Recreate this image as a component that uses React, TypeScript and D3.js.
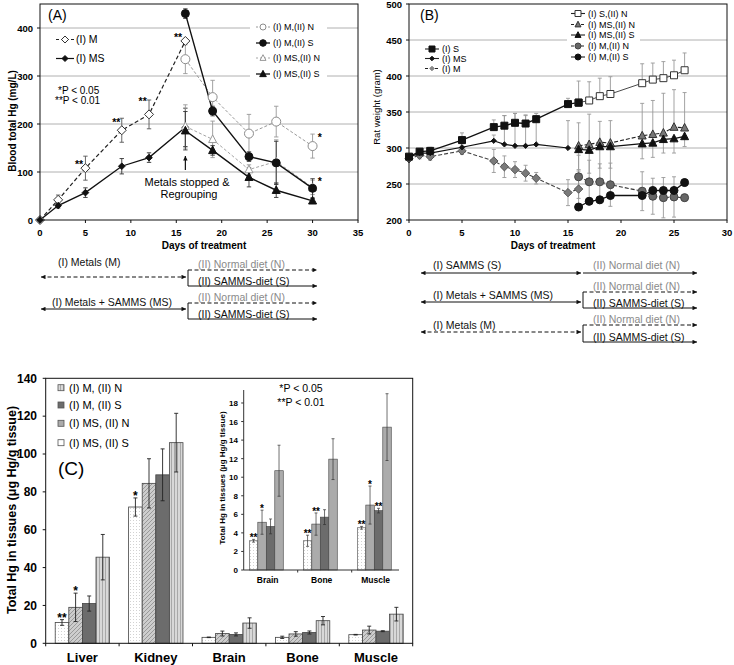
import React from "react";
import * as d3 from "d3";

const FONT = "'Liberation Sans', Arial, Helvetica, sans-serif";

// ---------------- Panel A data (blood Hg) ----------------
const daysA1 = [0, 2, 5, 9, 12, 16];
const aM = [0, 42, 108, 187, 220, 373];
const aMErr = [0, 10, 25, 25, 30, 0];
const aMS = [0, 30, 57, 112, 130, 193];
const aMSErr = [0, 5, 10, 16, 10, 40];
const daysA2 = [16, 19, 23, 26, 30];
const aMN = [335, 256, 180, 205, 154];
const aMNErr = [30, 35, 40, 32, 25];
const aMSd = [430, 227, 132, 119, 66];
const aMSdErr = [10, 10, 10, 45, 20];
const aMSN = [195, 168, 105, 122, 68];
const aMSNErr = [45, 38, 10, 45, 15];
const aMSS = [186, 145, 89, 62, 40];
const aMSSErr = [40, 10, 20, 15, 5];
const xTicksA = [0, 5, 10, 15, 20, 25, 30, 35];
const yTicksA = [0, 100, 200, 300, 400];
const gridA = [100, 200, 300, 400];
const starsA = [
  { d: 4.3, v: 121, t: "**" },
  { d: 8.4, v: 208, t: "**" },
  { d: 11.3, v: 252, t: "**" },
  { d: 15.2, v: 385, t: "**" },
  { d: 30.8, v: 177, t: "*" },
  { d: 30.8, v: 85, t: "*" },
];

// ---------------- Panel B data (rat weight) ----------------
const bDaysI = [0, 1, 2, 5, 8, 9, 10, 11, 12, 15, 16];
const bS = [288, 295, 296, 311, 329, 331, 335, 334, 340, 361, 363];
const bSErr = [3, 4, 5, 10, 10, 14, 13, 12, 8, 8, 30];
const bM = [285, 290, 288, 296, 282, 274, 270, 265, 258, 238, 243];
const bMErr = [3, 5, 5, 5, 16, 15, 11, 11, 8, 18, 25];
const bDaysMS = [0, 1, 2, 5, 8, 9, 10, 11, 12, 15];
const bMS = [287, 293, 293, 301, 310, 305, 303, 303, 305, 300];
const bMSErr = [3, 5, 5, 5, 8, 40, 45, 42, 40, 38];
const bDaysII = [16, 17, 18, 19, 22, 23, 24, 25, 26];
const bSN = [363, 366, 372, 375, 390, 395, 397, 401, 408];
const bSNErr = [0, 26, 25, 24, 27, 23, 23, 21, 24];
const bMSN = [303, 305, 308, 307, 317, 319, 321, 329, 328];
const bMSNErr = [32, 42, 29, 31, 45, 47, 55, 52, 49];
const bMSS = [298, 297, 302, 302, 306, 307, 312, 313, 316];
const bMSSErr = [28, 32, 30, 30, 21, 20, 19, 20, 14];
const bMN = [260, 253, 253, 249, 240, 233, 231, 232, 231];
const bMNErr = [30, 30, 25, 30, 27, 25, 28, 28, 5];
const bMSd = [218, 226, 228, 234, 234, 241, 241, 241, 252];
const bMSdErr = [3, 5, 5, 4, 4, 4, 4, 4, 5];
const xTicksB = [0, 5, 10, 15, 20, 25, 30];
const yTicksB = [200, 250, 300, 350, 400, 450, 500];
const gridB = [250, 300, 350, 400, 450];

// ---------------- Panel C data (tissue Hg) ----------------
const cats = ["Liver", "Kidney", "Brain", "Bone", "Muscle"];
const insetCats = ["Brain", "Bone", "Muscle"];
const barKeys = ["MSS", "MSN", "MS", "MN"];
const cMSS = [11, 72, 3.15, 3.15, 4.55];
const cMSSErr = [1.5, 4.8, 0.15, 0.6, 0.15];
const cMSN = [19, 84.5, 5.15, 4.95, 7.0];
const cMSNErr = [7.5, 13, 1.3, 1.2, 2.05];
const cMSd = [21, 89, 4.7, 5.7, 6.4];
const cMSdErr = [4, 13.7, 0.8, 0.8, 0.25];
const cMN = [45.5, 106, 10.7, 11.95, 15.4];
const cMNErr = [12, 15.5, 2.75, 2.2, 3.6];
const yTicksC = [0, 20, 40, 60, 80, 100, 120, 140];
const yTicksI = [0, 2, 4, 6, 8, 10, 12, 14, 16, 18];
const starsC = [
  { c: "Liver", k: 0, t: "**" },
  { c: "Liver", k: 1, t: "*" },
  { c: "Kidney", k: 0, t: "*" },
];
const starsI = [
  { c: "Brain", k: 0, t: "**" },
  { c: "Brain", k: 1, t: "*" },
  { c: "Bone", k: 0, t: "**" },
  { c: "Bone", k: 1, t: "**" },
  { c: "Muscle", k: 0, t: "**" },
  { c: "Muscle", k: 1, t: "*" },
  { c: "Muscle", k: 2, t: "**" },
];
const legendC = ["(I) M, (II) N", "(I) M, (II) S", "(I) MS, (II) N", "(I) MS, (II) S"];

function markerPath(type: string, s: number) {
  if (type === "diamond") return `M0,${-s}L${s},0L0,${s}L${-s},0Z`;
  if (type === "square") return `M${-s},${-s}H${s}V${s}H${-s}Z`;
  if (type === "triangle") return `M0,${-s * 1.1}L${s},${s * 0.8}L${-s},${s * 0.8}Z`;
  return "";
}

function Mk(p: { type: string; cx: number; cy: number; s: number; fill: string; stroke: string; sw?: number }) {
  if (p.type === "circle")
    return <circle cx={p.cx} cy={p.cy} r={p.s} fill={p.fill} stroke={p.stroke} strokeWidth={p.sw ?? 1} />;
  return (
    <path
      d={markerPath(p.type, p.s)}
      transform={`translate(${p.cx},${p.cy})`}
      fill={p.fill}
      stroke={p.stroke}
      strokeWidth={p.sw ?? 1}
    />
  );
}

interface Ser {
  xs: number[];
  ys: number[];
  err: number[];
  dir: "both" | "up" | "down";
  stroke: string;
  width: number;
  dash?: string;
  marker: string;
  ms: number;
  mfill: string;
  mstroke: string;
  ecolor: string;
}

function drawSeries(list: Ser[], x: any, y: any, cap: number) {
  const line = d3
    .line<[number, number]>()
    .x((d) => x(d[0]))
    .y((d) => y(d[1]));
  const errs = list.map((s, si) => (
    <g key={"e" + si} stroke={s.ecolor} strokeWidth={0.9}>
      {s.xs.map((d, i) => {
        const e = s.err[i];
        if (!e) return null;
        const top = s.dir === "down" ? s.ys[i] : s.ys[i] + e;
        const bot = s.dir === "up" ? s.ys[i] : s.ys[i] - e;
        const cx = x(d);
        return (
          <g key={i}>
            <line x1={cx} x2={cx} y1={y(top)} y2={y(bot)} />
            {s.dir !== "down" && <line x1={cx - cap} x2={cx + cap} y1={y(top)} y2={y(top)} />}
            {s.dir !== "up" && <line x1={cx - cap} x2={cx + cap} y1={y(bot)} y2={y(bot)} />}
          </g>
        );
      })}
    </g>
  ));
  const lines = list.map((s, si) => (
    <path
      key={"l" + si}
      d={line(s.xs.map((d, i) => [d, s.ys[i]] as [number, number])) || ""}
      fill="none"
      stroke={s.stroke}
      strokeWidth={s.width}
      strokeDasharray={s.dash}
    />
  ));
  const marks = list.map((s, si) => (
    <g key={"m" + si}>
      {s.xs.map((d, i) => (
        <Mk key={i} type={s.marker} cx={x(d)} cy={y(s.ys[i])} s={s.ms} fill={s.mfill} stroke={s.mstroke} />
      ))}
    </g>
  ));
  return [errs, lines, marks];
}

function Schematic(p: {
  x0: number;
  xm: number;
  x1: number;
  rows: {
    label: string;
    lx: number;
    ly: number;
    y: number;
    dash: boolean;
    br: { y: number; dash: boolean; text: string; gray: boolean; ty: number }[];
    bar: boolean;
  }[];
}) {
  return (
    <g fontSize={10.5}>
      {p.rows.map((r, i) => (
        <g key={i}>
          <text x={r.lx} y={r.ly} fill="#111">
            {r.label}
          </text>
          <line
            x1={p.x0 + 1}
            x2={p.xm - 1}
            y1={r.y}
            y2={r.y}
            stroke="#111"
            strokeWidth={1}
            strokeDasharray={r.dash ? "4,2.5" : undefined}
            markerStart="url(#arr)"
            markerEnd="url(#arr)"
          />
          {r.bar && (
            <line
              x1={p.xm + 1}
              x2={p.xm + 1}
              y1={r.br[0].y}
              y2={r.br[r.br.length - 1].y}
              stroke="#111"
              strokeWidth={1}
            />
          )}
          {r.br.map((b, j) => (
            <g key={j}>
              <line
                x1={p.xm + 1}
                x2={p.x1 - 1}
                y1={b.y}
                y2={b.y}
                stroke="#111"
                strokeWidth={1}
                strokeDasharray={b.dash ? "4,2.5" : undefined}
                markerEnd="url(#arr)"
              />
              <text x={p.xm + 11} y={b.ty} fill={b.gray ? "#8a8a8a" : "#111"}>
                {b.text}
              </text>
            </g>
          ))}
        </g>
      ))}
    </g>
  );
}

export default function App() {
  // ---------- scales ----------
  const xA = d3.scaleLinear().domain([0, 35]).range([40, 358]);
  const yA = d3.scaleLinear().domain([0, 450]).range([220, 4]);
  const xB = d3.scaleLinear().domain([0, 30]).range([409, 727]);
  const yB = d3.scaleLinear().domain([200, 500]).range([220, 4]);
  const xC = d3.scaleBand<string>().domain(cats).range([45.7, 412.7]);
  const xCs = d3.scaleBand<string>().domain(barKeys).range([0, xC.bandwidth()]).paddingInner(0).paddingOuter(0.7);
  const yC = d3.scaleLinear().domain([0, 140]).range([643.3, 378.3]);
  const xI = d3.scaleBand<string>().domain(insetCats).range([243.7, 405.7]);
  const xIs = d3
    .scaleBand<string>()
    .domain(barKeys)
    .range([0, xI.bandwidth()])
    .paddingInner(0)
    .paddingOuter(1.18)
    .align(0.28);
  const yI = d3.scaleLinear().domain([0, 19.4]).range([570, 390]);

  const barVals = [cMSS, cMSN, cMSd, cMN];
  const barErrs = [cMSSErr, cMSNErr, cMSdErr, cMNErr];
  const barFill = ["url(#dots)", "url(#diag)", "#6c6c6c", "url(#vstripe)"];
  const insetFill = ["url(#dots)", "#ababab", "#6c6c6c", "#ababab"];

  const serA: Ser[] = [
    { xs: daysA1, ys: aM, err: aMErr, dir: "both", stroke: "#222", width: 1.2, dash: "4,2.5", marker: "diamond", ms: 4.5, mfill: "#fff", mstroke: "#333", ecolor: "#555" },
    { xs: daysA1, ys: aMS, err: aMSErr, dir: "both", stroke: "#111", width: 1.3, marker: "diamond", ms: 3.3, mfill: "#111", mstroke: "#111", ecolor: "#333" },
    { xs: daysA2, ys: aMN, err: aMNErr, dir: "both", stroke: "#8c8c8c", width: 0.9, dash: "3,2", marker: "circle", ms: 4.5, mfill: "#fff", mstroke: "#8c8c8c", ecolor: "#999" },
    { xs: daysA2, ys: aMSN, err: aMSNErr, dir: "both", stroke: "#9a9a9a", width: 0.9, dash: "3,2", marker: "triangle", ms: 4, mfill: "#fff", mstroke: "#999", ecolor: "#999" },
    { xs: daysA2, ys: aMSS, err: aMSSErr, dir: "both", stroke: "#111", width: 1.4, marker: "triangle", ms: 4, mfill: "#111", mstroke: "#111", ecolor: "#333" },
    { xs: daysA2, ys: aMSd, err: aMSdErr, dir: "both", stroke: "#111", width: 1.4, marker: "circle", ms: 4, mfill: "#111", mstroke: "#111", ecolor: "#333" },
  ];
  const serB: Ser[] = [
    { xs: bDaysI, ys: bM, err: bMErr, dir: "both", stroke: "#444", width: 1.1, dash: "4,2", marker: "diamond", ms: 4.2, mfill: "#7a7a7a", mstroke: "#555", ecolor: "#999" },
    { xs: bDaysII, ys: bMN, err: bMNErr, dir: "both", stroke: "#333", width: 1.1, dash: "4,2", marker: "circle", ms: 4, mfill: "#666", mstroke: "#444", ecolor: "#999" },
    { xs: bDaysII, ys: bMSd, err: bMSdErr, dir: "both", stroke: "#111", width: 1.3, marker: "circle", ms: 4, mfill: "#111", mstroke: "#111", ecolor: "#999" },
    { xs: bDaysMS, ys: bMS, err: bMSErr, dir: "up", stroke: "#111", width: 1.2, marker: "diamond", ms: 2.6, mfill: "#111", mstroke: "#111", ecolor: "#999" },
    { xs: bDaysII, ys: bMSN, err: bMSNErr, dir: "up", stroke: "#222", width: 1.1, dash: "4,2", marker: "triangle", ms: 4, mfill: "#777", mstroke: "#333", ecolor: "#999" },
    { xs: bDaysII, ys: bMSS, err: bMSSErr, dir: "down", stroke: "#111", width: 1.3, marker: "triangle", ms: 4, mfill: "#111", mstroke: "#111", ecolor: "#999" },
    { xs: bDaysII, ys: bSN, err: bSNErr, dir: "up", stroke: "#333", width: 0.9, marker: "square", ms: 3.5, mfill: "#fff", mstroke: "#333", ecolor: "#999" },
    { xs: bDaysI, ys: bS, err: bSErr, dir: "up", stroke: "#111", width: 1.4, marker: "square", ms: 3.5, mfill: "#111", mstroke: "#111", ecolor: "#999" },
  ];
  const [eA, lA, mA] = drawSeries(serA, xA, yA, 2.2);
  const [eB, lB, mB] = drawSeries(serB, xB, yB, 2);

  const legA = [
    { t: "(I) M,(II) N", dash: "2,2", stroke: "#8c8c8c", mk: "circle", s: 3, fill: "#fff", ms: "#8c8c8c" },
    { t: "(I) M,(II) S", dash: undefined, stroke: "#111", mk: "circle", s: 3.3, fill: "#111", ms: "#111" },
    { t: "(I) MS,(II) N", dash: "2,2", stroke: "#9a9a9a", mk: "triangle", s: 3, fill: "#fff", ms: "#999" },
    { t: "(I) MS,(II) S", dash: undefined, stroke: "#111", mk: "triangle", s: 3.3, fill: "#111", ms: "#111" },
  ];
  const legAy = [27, 43, 58, 74];
  const legB1 = [
    { t: "(I) S", dash: undefined, mk: "square", s: 3, fill: "#111", ms: "#111" },
    { t: "(I) MS", dash: undefined, mk: "diamond", s: 2.3, fill: "#111", ms: "#111" },
    { t: "(I) M", dash: "3,2", mk: "diamond", s: 2.3, fill: "#888", ms: "#888" },
  ];
  const legB1y = [49, 58.5, 68.5];
  const legB2 = [
    { t: "(I) S,(II) N", dash: undefined, mk: "square", s: 3, fill: "#fff", ms: "#333" },
    { t: "(I) MS,(II) N", dash: "3,2", mk: "triangle", s: 3, fill: "#777", ms: "#333" },
    { t: "(I) MS,(II) S", dash: undefined, mk: "triangle", s: 3, fill: "#111", ms: "#111" },
    { t: "(I) M,(II) N", dash: "3,2", mk: "circle", s: 3, fill: "#666", ms: "#444" },
    { t: "(I) M,(II) S", dash: undefined, mk: "circle", s: 3, fill: "#111", ms: "#111" },
  ];
  const legB2y = [13.5, 24.5, 35, 46, 57];
  const legCfill = ["url(#vstripe)", "#6c6c6c", "#ababab", "#fff"];

  return (
    <svg
      width={734}
      height={665}
      style={{ position: "absolute", left: 0, top: 0, background: "#fff" }}
      fontFamily={FONT}
    >
      <defs>
        <marker id="arr" viewBox="0 0 10 10" refX="10" refY="5" markerWidth="7" markerHeight="4.5" orient="auto-start-reverse" markerUnits="userSpaceOnUse">
          <path d="M0,0L10,5L0,10Z" fill="#111" />
        </marker>
        <pattern id="dots" width="3" height="3" patternUnits="userSpaceOnUse">
          <rect width="3" height="3" fill="#fff" />
          <rect x="1" y="1" width="1" height="1" fill="#d2d2d2" />
        </pattern>
        <pattern id="diag" width="4" height="4" patternUnits="userSpaceOnUse">
          <rect width="4" height="4" fill="#cdcdcd" />
          <path d="M0,4L4,0M-1,1L1,-1M3,5L5,3" stroke="#999" strokeWidth="1" />
        </pattern>
        <pattern id="vstripe" width="3" height="4" patternUnits="userSpaceOnUse">
          <rect width="3" height="4" fill="#d8d8d8" />
          <rect x="0" width="1" height="4" fill="#a8a8a8" />
        </pattern>
      </defs>

      {/* ================= Panel A ================= */}
      <g>
        {gridA.map((v) => (
          <line key={v} x1={xA(0)} x2={xA(35)} y1={yA(v)} y2={yA(v)} stroke="#b0b0b0" strokeWidth={1} />
        ))}
        <rect x={250} y={19} width={77} height={62} fill="#fff" />
        {eA}
        {lA}
        {mA}
        <rect x={xA(0)} y={yA(450)} width={xA(35) - xA(0)} height={yA(0) - yA(450)} fill="none" stroke="#111" strokeWidth={1} />
        {xTicksA.map((t) => (
          <g key={t}>
            <line x1={xA(t)} x2={xA(t)} y1={yA(0)} y2={yA(0) + 3} stroke="#111" />
            <text x={xA(t)} y={236} textAnchor="middle" fontSize={9.5} fontWeight="bold">
              {t}
            </text>
          </g>
        ))}
        {yTicksA.map((t) => (
          <g key={t}>
            <line x1={xA(0) - 3} x2={xA(0)} y1={yA(t)} y2={yA(t)} stroke="#111" />
            <text x={33} y={yA(t) + 3.5} textAnchor="end" fontSize={9.5} fontWeight="bold">
              {t}
            </text>
          </g>
        ))}
        <text x={204} y={249} textAnchor="middle" fontSize={10} fontWeight="bold">
          Days of treatment
        </text>
        <text transform={`translate(16,121) rotate(-90)`} textAnchor="middle" fontSize={10} fontWeight="bold">
          Blood total Hg (mg/L)
        </text>
        <text x={48} y={20} fontSize={14}>
          (A)
        </text>
        {/* left legend */}
        <line x1={56} x2={74} y1={39.5} y2={39.5} stroke="#222" strokeDasharray="3,2" />
        <Mk type="diamond" cx={65} cy={39.5} s={3.5} fill="#fff" stroke="#333" />
        <text x={76} y={43} fontSize={10.5}>
          (I) M
        </text>
        <line x1={56} x2={74} y1={58.5} y2={58.5} stroke="#111" strokeWidth={1.2} />
        <Mk type="diamond" cx={65} cy={58.5} s={3} fill="#111" stroke="#111" />
        <text x={76} y={62} fontSize={10.5}>
          (I) MS
        </text>
        <text x={58} y={93.5} fontSize={10}>
          *P &lt; 0.05
        </text>
        <text x={55} y={104} fontSize={10}>
          **P &lt; 0.01
        </text>
        {/* right legend */}
        {legA.map((l, i) => (
          <g key={i}>
            <line x1={256} x2={270} y1={legAy[i]} y2={legAy[i]} stroke={l.stroke} strokeWidth={l.dash ? 0.9 : 1.3} strokeDasharray={l.dash} />
            <Mk type={l.mk} cx={263} cy={legAy[i]} s={l.s} fill={l.fill} stroke={l.ms} />
            <text x={273} y={legAy[i] + 3.2} fontSize={9}>
              {l.t}
            </text>
          </g>
        ))}
        {starsA.map((s, i) => (
          <text key={i} x={xA(s.d)} y={yA(s.v) + 6} textAnchor="middle" fontSize={10.5} fontWeight="bold">
            {s.t}
          </text>
        ))}
        <line x1={xA(16)} x2={xA(16)} y1={170} y2={156} stroke="#111" strokeWidth={1.2} markerEnd="url(#arr)" />
        <text x={187} y={186} textAnchor="middle" fontSize={11}>
          Metals stopped &amp;
        </text>
        <text x={189} y={198} textAnchor="middle" fontSize={11}>
          Regrouping
        </text>
      </g>

      <Schematic
        x0={40}
        xm={187}
        x1={318}
        rows={[
          {
            label: "(I) Metals (M)",
            lx: 58,
            ly: 266,
            y: 277,
            dash: true,
            bar: true,
            br: [
              { y: 270, dash: true, text: "(II) Normal diet (N)", gray: true, ty: 267.5 },
              { y: 286, dash: false, text: "(II) SAMMS-diet (S)", gray: false, ty: 285 },
            ],
          },
          {
            label: "(I) Metals + SAMMS (MS)",
            lx: 52,
            ly: 306,
            y: 309,
            dash: false,
            bar: true,
            br: [
              { y: 303, dash: true, text: "(II) Normal diet (N)", gray: true, ty: 300.5 },
              { y: 319, dash: false, text: "(II) SAMMS-diet (S)", gray: false, ty: 318 },
            ],
          },
        ]}
      />

      {/* ================= Panel B ================= */}
      <g>
        {gridB.map((v) => (
          <line key={v} x1={xB(0)} x2={xB(30)} y1={yB(v)} y2={yB(v)} stroke="#b0b0b0" strokeWidth={1} />
        ))}
        <rect x={567} y={5} width={73} height={57} fill="#fff" />
        {eB}
        {lB}
        {mB}
        <rect x={xB(0)} y={yB(500)} width={xB(30) - xB(0)} height={yB(200) - yB(500)} fill="none" stroke="#111" strokeWidth={1} />
        {xTicksB.map((t) => (
          <g key={t}>
            <line x1={xB(t)} x2={xB(t)} y1={yB(200)} y2={yB(200) + 3} stroke="#111" />
            <text x={xB(t)} y={236} textAnchor="middle" fontSize={9.5} fontWeight="bold">
              {t}
            </text>
          </g>
        ))}
        {yTicksB.map((t) => (
          <g key={t}>
            <line x1={xB(0) - 3} x2={xB(0)} y1={yB(t)} y2={yB(t)} stroke="#111" />
            <text x={402} y={yB(t) + 3.5} textAnchor="end" fontSize={9.5} fontWeight="bold">
              {t}
            </text>
          </g>
        ))}
        <text x={553} y={249} textAnchor="middle" fontSize={10} fontWeight="bold">
          Days of treatment
        </text>
        <text transform={`translate(380,107) rotate(-90)`} textAnchor="middle" fontSize={9.5}>
          Rat weight (gram)
        </text>
        <text x={420} y={20} fontSize={14}>
          (B)
        </text>
        {legB1.map((l, i) => (
          <g key={i}>
            <line x1={425} x2={439} y1={legB1y[i]} y2={legB1y[i]} stroke="#222" strokeWidth={1.1} strokeDasharray={l.dash} />
            <Mk type={l.mk} cx={432} cy={legB1y[i]} s={l.s} fill={l.fill} stroke={l.ms} />
            <text x={442} y={legB1y[i] + 3.2} fontSize={9}>
              {l.t}
            </text>
          </g>
        ))}
        {legB2.map((l, i) => (
          <g key={i}>
            <line x1={571} x2={585} y1={legB2y[i]} y2={legB2y[i]} stroke="#222" strokeWidth={1.1} strokeDasharray={l.dash} />
            <Mk type={l.mk} cx={578} cy={legB2y[i]} s={l.s} fill={l.fill} stroke={l.ms} />
            <text x={588} y={legB2y[i] + 3.2} fontSize={9}>
              {l.t}
            </text>
          </g>
        ))}
      </g>

      <Schematic
        x0={420}
        xm={582}
        x1={698}
        rows={[
          {
            label: "(I) SAMMS (S)",
            lx: 433,
            ly: 268.5,
            y: 273,
            dash: false,
            bar: false,
            br: [{ y: 273, dash: false, text: "(II) Normal diet (N)", gray: true, ty: 268.5 }],
          },
          {
            label: "(I) Metals + SAMMS (MS)",
            lx: 433,
            ly: 298.5,
            y: 302,
            dash: false,
            bar: true,
            br: [
              { y: 292, dash: true, text: "(II) Normal diet (N)", gray: true, ty: 290 },
              { y: 308, dash: false, text: "(II) SAMMS-diet (S)", gray: false, ty: 307 },
            ],
          },
          {
            label: "(I) Metals (M)",
            lx: 433,
            ly: 328.5,
            y: 332,
            dash: true,
            bar: true,
            br: [
              { y: 325, dash: true, text: "(II) Normal diet (N)", gray: true, ty: 323 },
              { y: 342, dash: false, text: "(II) SAMMS-diet (S)", gray: false, ty: 340.5 },
            ],
          },
        ]}
      />

      {/* ================= Panel C ================= */}
      <g>
        {cats.map((c, ci) => (
          <g key={c}>
            {barKeys.map((k, ki) => {
              const v = barVals[ki][ci];
              const e = barErrs[ki][ci];
              const bx = (xC(c) as number) + (xCs(k) as number);
              const bw = xCs.bandwidth();
              const cx = bx + bw / 2;
              return (
                <g key={k}>
                  <rect x={bx} y={yC(v)} width={bw} height={yC(0) - yC(v)} fill={barFill[ki]} stroke="#444" strokeWidth={0.8} />
                  <g stroke="#222" strokeWidth={0.9}>
                    <line x1={cx} x2={cx} y1={yC(v + e)} y2={yC(v - e)} />
                    <line x1={cx - 2} x2={cx + 2} y1={yC(v + e)} y2={yC(v + e)} />
                    <line x1={cx - 2} x2={cx + 2} y1={yC(v - e)} y2={yC(v - e)} />
                  </g>
                </g>
              );
            })}
          </g>
        ))}
        {starsC.map((s, i) => {
          const ci = cats.indexOf(s.c);
          const k = barKeys[s.k];
          const cx = (xC(s.c) as number) + (xCs(k) as number) + xCs.bandwidth() / 2;
          const top = barVals[s.k][ci] + barErrs[s.k][ci];
          return (
            <text key={i} x={cx} y={yC(top) + 2} textAnchor="middle" fontSize={12} fontWeight="bold">
              {s.t}
            </text>
          );
        })}
        <rect x={45.7} y={yC(140)} width={412.7 - 45.7} height={yC(0) - yC(140)} fill="none" stroke="#111" strokeWidth={1} />
        {cats.map((c) => (
          <g key={c}>
            <line x1={xC(c) as number} x2={xC(c) as number} y1={yC(0)} y2={yC(0) + 3} stroke="#111" />
            <text x={(xC(c) as number) + xC.bandwidth() / 2} y={662} textAnchor="middle" fontSize={13} fontWeight="bold">
              {c}
            </text>
          </g>
        ))}
        <line x1={412.7} x2={412.7} y1={yC(0)} y2={yC(0) + 3} stroke="#111" />
        {yTicksC.map((t) => (
          <g key={t}>
            <line x1={45.7 - 3} x2={45.7} y1={yC(t)} y2={yC(t)} stroke="#111" />
            <text x={37} y={yC(t) + 4.3} textAnchor="end" fontSize={12} fontWeight="bold">
              {t}
            </text>
          </g>
        ))}
        <text transform={`translate(16,510) rotate(-90)`} textAnchor="middle" fontSize={12.5} fontWeight="bold">
          Total Hg in tissues (μg Hg/g tissue)
        </text>
        <text x={58} y={475} fontSize={19}>
          (C)
        </text>
        {legendC.map((t, i) => {
          const cy = [387.7, 405, 423.3, 442.7][i];
          return (
            <g key={t}>
              <rect x={58} y={cy - 3} width={6} height={6} fill={legCfill[i]} stroke="#555" strokeWidth={0.8} />
              <text x={69} y={cy + 4} fontSize={11}>
                {t}
              </text>
            </g>
          );
        })}

        {/* inset */}
        {insetCats.map((c) => {
          const ci = cats.indexOf(c);
          return (
            <g key={c}>
              {barKeys.map((k, ki) => {
                const v = barVals[ki][ci];
                const e = barErrs[ki][ci];
                const bx = (xI(c) as number) + (xIs(k) as number);
                const bw = xIs.bandwidth();
                const cx = bx + bw / 2;
                return (
                  <g key={k}>
                    <rect x={bx} y={yI(v)} width={bw} height={yI(0) - yI(v)} fill={insetFill[ki]} stroke="#444" strokeWidth={0.6} />
                    <g stroke="#333" strokeWidth={0.7}>
                      <line x1={cx} x2={cx} y1={yI(v + e)} y2={yI(v - e)} />
                      <line x1={cx - 1.5} x2={cx + 1.5} y1={yI(v + e)} y2={yI(v + e)} />
                      <line x1={cx - 1.5} x2={cx + 1.5} y1={yI(v - e)} y2={yI(v - e)} />
                    </g>
                  </g>
                );
              })}
            </g>
          );
        })}
        {starsI.map((s, i) => {
          const ci = cats.indexOf(s.c);
          const k = barKeys[s.k];
          const cx = (xI(s.c) as number) + (xIs(k) as number) + xIs.bandwidth() / 2;
          const top = barVals[s.k][ci] + barErrs[s.k][ci];
          return (
            <text key={i} x={cx} y={yI(top) + 2} textAnchor="middle" fontSize={10} fontWeight="bold">
              {s.t}
            </text>
          );
        })}
        <line x1={243.7} x2={243.7} y1={yI(0)} y2={yI(19.4)} stroke="#333" strokeWidth={1} />
        <line x1={243.7} x2={399} y1={yI(0)} y2={yI(0)} stroke="#333" strokeWidth={1} />
        {insetCats.slice(1).map((c) => (
          <line key={c} x1={xI(c) as number} x2={xI(c) as number} y1={yI(0)} y2={yI(0) + 2.5} stroke="#333" />
        ))}
        {yTicksI.map((t) => (
          <g key={t}>
            <line x1={243.7 - 2.5} x2={243.7} y1={yI(t)} y2={yI(t)} stroke="#333" />
            <text x={238} y={yI(t) + 3} textAnchor="end" fontSize={8} fontWeight="bold">
              {t}
            </text>
          </g>
        ))}
        {insetCats.map((c) => (
          <text key={c} x={(xI(c) as number) + 24} y={583} textAnchor="middle" fontSize={8.5} fontWeight="bold">
            {c}
          </text>
        ))}
        <text transform={`translate(225,478) rotate(-90)`} textAnchor="middle" fontSize={8} fontWeight="bold">
          Total Hg in tissues (μg Hg/g tissue)
        </text>
        <text x={301} y={392} textAnchor="middle" fontSize={10.5}>
          *P &lt; 0.05
        </text>
        <text x={301} y={406} textAnchor="middle" fontSize={10.5}>
          **P &lt; 0.01
        </text>
      </g>
    </svg>
  );
}
